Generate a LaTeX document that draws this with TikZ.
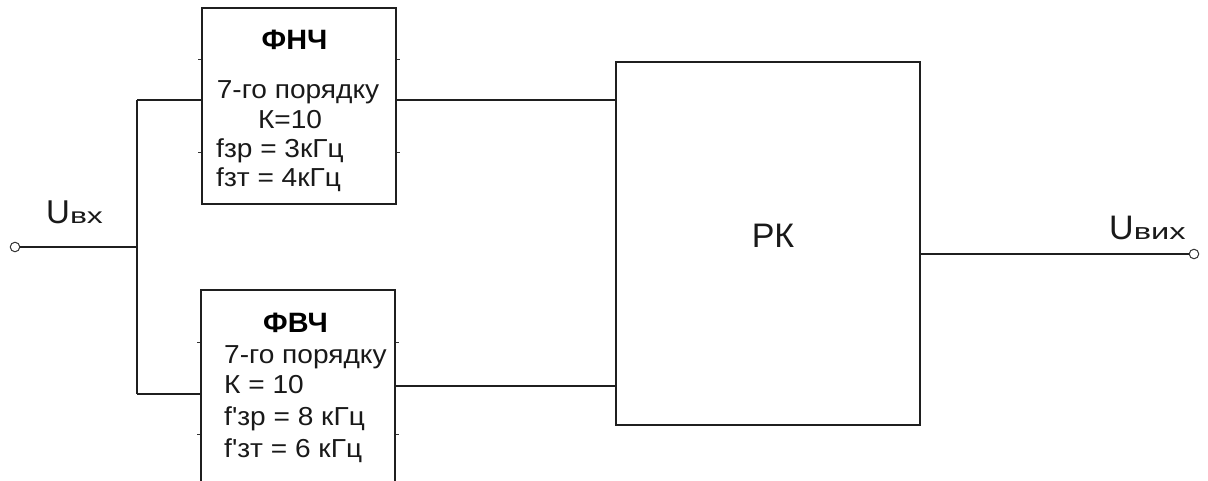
\documentclass[tikz,border=0pt]{standalone}
\usepackage{fontspec}
\setmainfont{Liberation Sans}
\newfontfamily\bodyfont[FakeStretch=1.08]{Liberation Sans}
\newfontfamily\titlefont[FakeStretch=1.03]{Liberation Sans}
\newfontfamily\subfont[FakeStretch=1.45]{Liberation Sans}
\begin{document}
\begin{tikzpicture}[x=1pt,y=-1pt,
  block/.style={draw=black!88, line width=1.5pt, inner sep=0pt, fill=none},
  wire/.style={draw=black!88, line width=1.5pt},
  pin/.style={draw=black!80, line width=1pt, circle, inner sep=0pt, minimum size=9.5pt, fill=white},
  txt/.style={inner sep=0pt, font=\bodyfont\fontsize{26}{30}\selectfont, text=black!90},
  ttl/.style={inner sep=0pt, font=\titlefont\bfseries\fontsize{28}{30}\selectfont, text=black},
  lab/.style={inner sep=0pt, text=black!90}]
\useasboundingbox (0,0) rectangle (1208,481);

% filter blocks and the combiner
\node[block, minimum width=194pt, minimum height=196pt] (lpf) at (299,106) {};
\node[block, minimum width=194pt, minimum height=230pt] (hpf) at (298,405) {};
\node[block, minimum width=304pt, minimum height=363pt] (rk) at (768,243.5) {};

% small pin marks on the filter sides
\foreach \yy in {60,153} {
  \draw[black!80, line width=1pt] (lpf.west |- 0,\yy) -- ++(-3,0);
  \draw[black!80, line width=1pt] (lpf.east |- 0,\yy) -- ++(3,0);
}
\foreach \yy in {342,434} {
  \draw[black!80, line width=1pt] (hpf.west |- 0,\yy) -- ++(-3,0);
  \draw[black!80, line width=1pt] (hpf.east |- 0,\yy) -- ++(3,0);
}

% block texts
\node[ttl, anchor=base] (lpft) at (294.5,50) {ФНЧ};
\node[txt, anchor=base] (lpf1) at (298,98.5) {7-го порядку};
\node[txt, anchor=base] (lpf2) at (290,129) {К=10};
\node[txt, anchor=base west] (lpf3) at (216,158) {fзр = 3кГц};
\node[txt, anchor=base west] (lpf4) at (216,187) {fзт = 4кГц};

\node[ttl, anchor=base] (hpft) at (295.5,332) {ФВЧ};
\node[txt, anchor=base west] (hpf1) at (224,363) {7-го порядку};
\node[txt, anchor=base west] (hpf2) at (224,393) {К = 10};
\node[txt, anchor=base west] (hpf3) at (224,425) {f'зр = 8 кГц};
\node[txt, anchor=base west] (hpf4) at (224,457) {f'зт = 6 кГц};

\node[lab, anchor=base, font=\fontsize{34}{34}\selectfont] (rkt) at (773,248) {РК};

% input and output terminals
\node[pin] (vin) at (15,247) {};
\node[pin] (vout) at (1194,254) {};
\node[lab, anchor=base west] (vinl) at (46,224)
  {{\fontsize{33}{33}\selectfont U}{\subfont\fontsize{22}{22}\selectfont вх}};
\node[lab, anchor=base west] (voutl) at (1109,240)
  {{\fontsize{34}{34}\selectfont U}{\subfont\fontsize{22.5}{22.5}\selectfont вих}};

% wiring
\coordinate (jt) at (137,100);
\coordinate (jm) at (137,247);
\coordinate (jb) at (137,394);
\draw[wire] (vin.east) -- (jm);
\draw[wire] (jt) -- (jb);
\draw[wire] (jt) -- (jt -| lpf.west);
\draw[wire] (jb) -- (jb -| hpf.west);
\draw[wire] (lpf.east |- 0,100) -- (rk.west |- 0,100);
\draw[wire] (hpf.east |- 0,386) -- (rk.west |- 0,386);
\draw[wire] (rk.east |- 0,254) -- (vout.west);
\end{tikzpicture}
\end{document}
